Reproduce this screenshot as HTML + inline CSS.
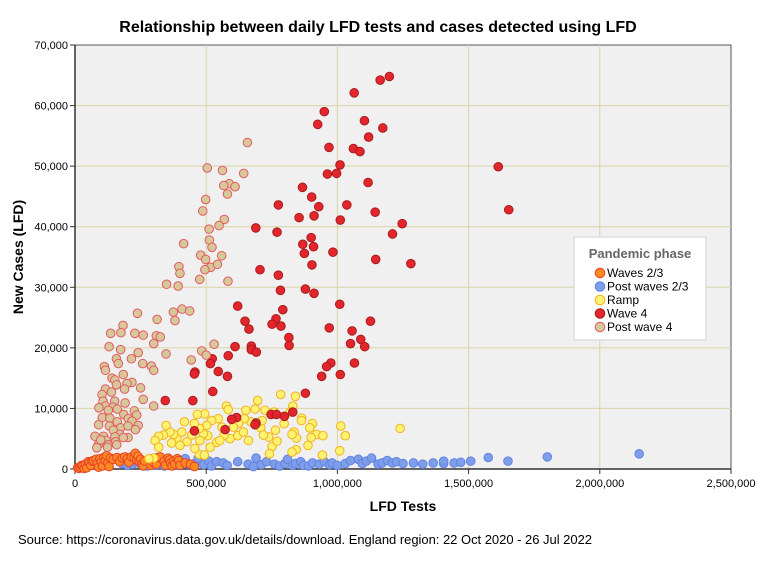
<!DOCTYPE html>
<html><head><meta charset="utf-8"><style>
body{margin:0;background:#fff;}
svg{display:block;font-family:"Liberation Sans",Arial,sans-serif;}
</style></head><body>
<svg id="chart" width="758" height="563" viewBox="0 0 758 563">
<rect x="0" y="0" width="758" height="563" fill="#fff"/>
<text x="378" y="32" text-anchor="middle" font-size="16" font-weight="bold">Relationship between daily LFD tests and cases detected using LFD</text>
<rect x="75" y="45" width="656" height="424" fill="#f0f0f0" stroke="#555" stroke-width="1"/>
<g id="grid"></g><g id="axes"></g><g id="marks"></g>
<text x="403" y="511" text-anchor="middle" font-size="14" font-weight="bold">LFD Tests</text>
<text transform="translate(23,257) rotate(-90)" text-anchor="middle" font-size="14" font-weight="bold">New Cases (LFD)</text>
<text x="18" y="544" font-size="13" textLength="574">Source: https://coronavirus.data.gov.uk/details/download. England region: 22 Oct 2020 - 26 Jul 2022</text>
<g>
<rect x="574" y="237" width="132" height="103" fill="#fff" stroke="#ddd" stroke-width="1.5"/>
<text x="640" y="258" text-anchor="middle" font-size="13" font-weight="bold" fill="#666">Pandemic phase</text>
<g id="legend-items"></g>
</g>
</svg>
<script>
const xTicks=[0,500000,1000000,1500000,2000000,2500000];
const xTickLabels=["0","500,000","1,000,000","1,500,000","2,000,000","2,500,000"];
const yTicks=[0,10000,20000,30000,40000,50000,60000,70000];
const yTickLabels=["0","10,000","20,000","30,000","40,000","50,000","60,000","70,000"];
const seriesNames=["Waves 2/3","Post waves 2/3","Ramp","Wave 4","Post wave 4"];
// values in thousands: [tests, cases]
const waves23=[[10,0.2],[15,0.1],[20,0.3],[25,0.6],[30,0.5],[35,0.1],[40,0.8],[45,0.2],[50,1.2],[55,1.0],[60,0.6],[65,1.3],[70,1.4],[80,1.6],[85,0.9],[90,0.3],[95,1.7],[100,1.2],[105,0.5],[110,1.9],[115,1.4],[120,2.2],[125,1.0],[130,0.4],[135,1.8],[145,1.6],[160,1.9],[170,1.2],[180,1.8],[190,2.0],[200,1.7],[205,1.1],[215,2.0],[225,1.9],[230,2.6],[235,1.5],[240,2.1],[245,1.2],[250,1.6],[255,0.8],[260,0.5],[265,1.3],[290,0.6],[300,1.0],[310,0.8],[315,1.9],[325,2.0],[340,1.3],[345,0.6],[355,1.8],[360,1.5],[365,1.0],[370,0.5],[375,1.3],[380,0.8],[390,1.7],[395,1.4],[400,0.6],[420,1.0],[440,0.8],[455,0.4]];
const postWaves23=[[180,0.9],[200,0.6],[220,0.8],[240,1.0],[260,1.2],[275,0.5],[290,0.7],[310,0.6],[340,0.5],[390,0.6],[410,1.2],[420,1.7],[430,0.8],[450,0.5],[460,1.0],[470,1.8],[490,0.7],[510,1.3],[520,0.5],[540,1.2],[565,1.0],[580,0.6],[620,1.2],[660,0.8],[680,0.4],[690,1.8],[710,0.7],[730,1.2],[760,0.8],[780,0.5],[800,0.9],[810,1.6],[830,0.6],[840,0.9],[860,1.2],[870,0.6],[890,0.5],[905,1.0],[930,0.8],[950,1.2],[970,0.7],[980,1.0],[1000,0.6],[1030,0.9],[1050,1.4],[1080,1.6],[1095,0.9],[1110,1.3],[1130,1.8],[1155,0.8],[1170,1.0],[1190,1.4],[1210,1.0],[1225,1.2],[1250,0.9],[1290,1.0],[1325,0.8],[1365,1.0],[1405,0.9],[1405,1.3],[1445,1.0],[1470,1.1],[1508,1.3],[1575,1.9],[1650,1.3],[1800,2.0],[2150,2.5]];
const ramp=[[696,11.3],[784,12.3],[840,12.0],[830,10.4],[577,10.4],[584,9.8],[494,9.1],[651,9.7],[686,9.9],[724,9.7],[759,9.4],[820,9.4],[864,8.4],[905,7.5],[895,6.8],[921,5.7],[945,5.5],[1013,7.1],[1030,5.5],[863,8.0],[835,6.1],[844,5.1],[827,5.7],[900,5.2],[1009,3.0],[843,3.2],[827,2.8],[751,3.7],[741,2.5],[943,2.3],[888,3.9],[764,6.4],[738,5.3],[770,4.6],[708,6.8],[694,7.5],[661,4.7],[670,7.8],[645,8.3],[623,7.5],[604,6.9],[620,5.5],[591,5.0],[568,5.6],[560,6.9],[546,8.3],[540,4.4],[515,3.6],[506,5.5],[521,8.0],[502,7.2],[489,5.8],[476,4.7],[474,6.7],[455,7.5],[445,5.6],[427,4.5],[417,7.8],[407,6.1],[388,5.0],[400,3.9],[376,5.7],[362,6.1],[347,7.2],[337,5.6],[319,5.4],[305,4.7],[319,3.6],[368,4.3],[466,9.0],[474,2.4],[493,2.3],[300,1.8],[282,1.7],[457,3.4],[552,4.7],[642,6.1],[718,5.6],[797,7.5],[713,8.0],[1239,6.7]];
const wave4=[[1163,64.2],[1064,62.1],[950,59],[925,56.9],[1103,57.5],[1119,54.8],[968,53.1],[1061,52.9],[1086,52.4],[1010,50.2],[997,48.8],[962,48.7],[867,46.5],[902,44.9],[929,43.3],[1036,43.6],[775,43.6],[1117,47.3],[1144,42.4],[1011,41.1],[911,41.8],[854,41.5],[689,39.8],[770,39.1],[900,38.2],[868,37.1],[909,36.7],[874,35.6],[983,35.8],[1146,34.6],[903,33.7],[705,32.9],[775,32.0],[783,29.5],[878,29.7],[911,29.0],[1009,27.2],[620,26.9],[792,26.3],[648,24.4],[1126,24.4],[766,24.8],[751,23.9],[785,23.6],[969,23.3],[663,23.1],[1056,22.8],[815,21.7],[1089,21.4],[1050,20.7],[672,20.3],[816,20.4],[610,20.2],[1104,20.2],[672,19.7],[691,19.3],[584,18.7],[523,18.2],[516,17.4],[975,17.5],[959,16.9],[1065,17.5],[546,16.1],[457,16.0],[455,15.7],[940,15.3],[1011,15.6],[581,15.3],[525,12.8],[878,12.5],[344,11.3],[449,11.3],[616,8.5],[597,8.2],[690,7.6],[686,7.3],[747,9.0],[768,9.0],[798,8.7],[830,9.4],[572,6.5],[455,6.3],[1198,64.8],[1173,56.3],[1613,49.9],[1653,42.8],[1247,40.5],[1210,38.8],[1280,33.9]];
const postWave4=[[657,53.9],[504,49.7],[562,49.3],[643,48.8],[498,44.5],[487,42.6],[588,47.1],[567,46.8],[610,46.6],[581,45.4],[511,39.6],[569,41.2],[549,40.2],[512,37.8],[522,36.6],[414,37.2],[479,35.3],[498,34.6],[559,35.2],[517,33.3],[543,33.8],[495,32.9],[396,33.4],[400,32.3],[475,31.3],[583,31.0],[349,30.5],[393,30.2],[408,26.4],[437,26.1],[375,25.9],[381,24.5],[238,25.7],[313,24.7],[183,23.7],[136,22.4],[175,22.5],[228,22.4],[260,22.1],[310,22.0],[325,21.8],[300,20.7],[130,20.2],[530,20.6],[174,19.7],[241,19.2],[347,19.0],[483,19.5],[500,18.8],[158,18.2],[215,18.2],[443,18.0],[165,17.4],[258,17.4],[291,17.0],[300,16.3],[112,16.9],[116,16.3],[141,15.0],[152,14.7],[184,15.6],[217,14.3],[198,14.1],[158,13.9],[189,13.2],[116,13.2],[139,12.7],[250,13.4],[103,12.3],[151,11.2],[260,11.5],[107,11.2],[116,10.4],[145,10.2],[191,10.9],[300,10.4],[91,10.1],[127,9.7],[161,9.9],[226,9.6],[186,9.0],[235,8.9],[104,8.5],[133,8.4],[203,8.3],[161,7.8],[217,7.9],[90,7.3],[131,7.1],[174,6.8],[202,7.1],[241,7.2],[230,6.5],[146,6.4],[171,5.7],[76,5.4],[109,5.4],[152,5.3],[202,5.2],[119,4.7],[155,4.5],[89,4.0],[126,4.0],[83,3.5],[124,3.6],[159,4.0],[98,4.8],[184,5.2]];

const NS="http://www.w3.org/2000/svg";
const X0=75,X1=731,Y0=469,Y1=45;
const xs=v=>X0+v/2500000*(X1-X0);
const ys=v=>Y0-v/70000*(Y0-Y1);
function mk(t,a,p){const e=document.createElementNS(NS,t);for(const k in a)e.setAttribute(k,a[k]);p.appendChild(e);return e;}
const grid=document.getElementById('grid'),axes=document.getElementById('axes'),marks=document.getElementById('marks');
xTicks.forEach((t,i)=>{
  if(i>0&&i<xTicks.length-1){const g=mk('line',{x1:xs(t),x2:xs(t),y1:Y1,y2:Y0,stroke:'#d9d4a6','stroke-width':1},grid);
  
  }
  mk('line',{x1:xs(t),x2:xs(t),y1:Y0,y2:Y0+5,stroke:'#333'},axes);
  const l=mk('text',{x:xs(t),y:Y0+18,'text-anchor':'middle','font-size':11},axes);l.textContent=xTickLabels[i];
  
  
});
yTicks.forEach((t,i)=>{
  if(i>0&&i<yTicks.length-1){const g=mk('line',{x1:X0,x2:X1,y1:ys(t),y2:ys(t),stroke:'#d9d4a6','stroke-width':1},grid);
  
  }
  mk('line',{x1:X0-5,x2:X0,y1:ys(t),y2:ys(t),stroke:'#333'},axes);
  const l=mk('text',{x:X0-7,y:ys(t)+4,'text-anchor':'end','font-size':11},axes);l.textContent=yTickLabels[i];
  
  
});
mk('line',{x1:X0,x2:X1,y1:Y0,y2:Y0,stroke:'#333','stroke-width':1.5},axes);
mk('line',{x1:X0,x2:X0,y1:Y1,y2:Y0,stroke:'#333','stroke-width':1.5},axes);
const styles=[{f:'#fb8a22',s:'#e8412a'},{f:'#7f9ee9',s:'#6283e4'},{f:'#fdf271',s:'#f2b21c'},{f:'#e3262b',s:'#a81c1f'},{f:'#d6c89a',s:'#e45a60'}];
const data=[postWaves23,waves23,ramp,wave4,postWave4];
const styleIdx=[1,0,2,3,4];
const keys=['waves-2-3','post-waves-2-3','ramp','wave-4','post-wave-4'];
data.forEach((ser,di)=>{
  const si=styleIdx[di];
  ser.forEach(p=>{
    const c=mk('circle',{cx:xs(p[0]*1000),cy:ys(p[1]*1000),r:4.3,fill:styles[si].f,stroke:styles[si].s,'stroke-width':1},marks);
    
    
  });
});
const li=document.getElementById('legend-items');
seriesNames.forEach((n,i)=>{
  const y=273+i*13.5;
  const c=mk('circle',{cx:600,cy:y,r:4.8,fill:styles[i].f,stroke:styles[i].s,'stroke-width':1},li);
  
  
  const t=mk('text',{x:607,y:y+4,'font-size':12},li);t.textContent=n;
  
  
});
</script>
</body></html>
